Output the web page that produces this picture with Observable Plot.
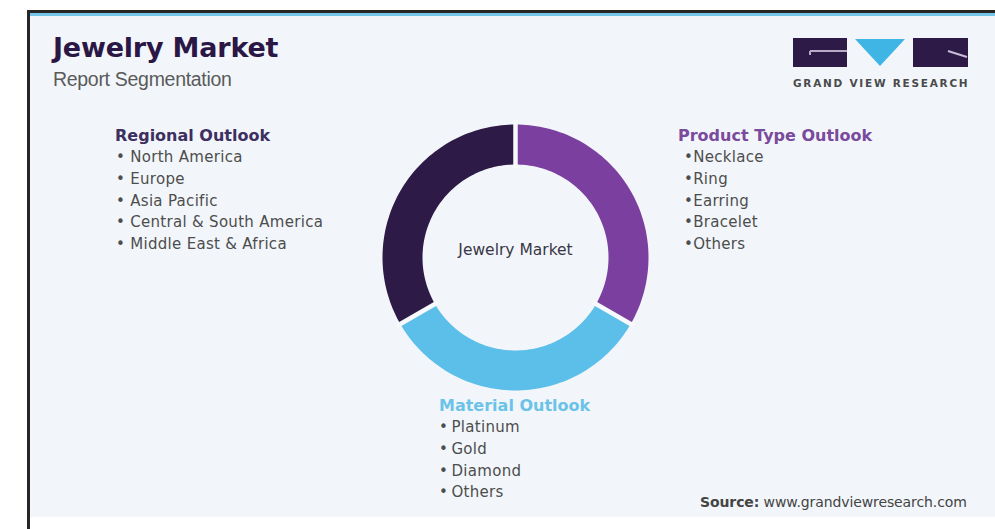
<!DOCTYPE html>
<html><head><meta charset="utf-8">
<script src="https://cdn.jsdelivr.net/npm/d3@7"></script>
<script src="https://cdn.jsdelivr.net/npm/@observablehq/plot@0.6"></script>
<style>
html,body{margin:0;padding:0;background:#fff;}
#wrap{position:relative;width:995px;height:529px;overflow:hidden;font-family:"DejaVu Sans",sans-serif;}
#frame{position:absolute;left:27px;top:10px;width:968px;height:519px;border-top:3px solid #262626;border-left:3px solid #262626;box-sizing:border-box;}
#panel{position:absolute;left:30px;top:13px;right:0;height:504px;background:#f2f6fa;border-top:3px solid #74c5e8;box-sizing:border-box;}
#title{position:absolute;left:53px;top:32px;font:bold 27px "DejaVu Sans",sans-serif;color:#2b1745;letter-spacing:-0.2px;white-space:nowrap;}
#subtitle{position:absolute;left:53px;top:68px;font:19.5px "Liberation Sans",Arial,sans-serif;color:#5a5a5a;white-space:nowrap;letter-spacing:-0.3px;}
.block{position:absolute;white-space:nowrap;}
.block .h{font:bold 16px "DejaVu Sans",sans-serif;line-height:22px;}
.block .i{font:15px "DejaVu Sans",sans-serif;line-height:21.8px;color:#4d4d4d;letter-spacing:0.3px;}
#donut{position:absolute;left:365px;top:107px;}
#source{position:absolute;left:700px;top:494px;font:14px "DejaVu Sans",sans-serif;color:#444;white-space:nowrap;letter-spacing:-0.1px;}
#logo{position:absolute;left:790px;top:36px;}
</style></head>
<body>
<div id="wrap">
  <div id="frame"></div>
  <div id="panel"></div>
  <div id="title"></div>
  <div id="subtitle"></div>
  <svg id="logo" width="185" height="56" viewBox="0 0 185 56">
    <rect x="3" y="2" width="54" height="29" fill="#2d1a46"/>
    <path d="M20 15 H57 M20 15 V19" stroke="#b9a9c8" stroke-width="2" fill="none"/>
    <polygon points="65,3 115,3 90,30" fill="#3eb5e5"/>
    <rect x="123" y="2" width="55" height="29" fill="#2d1a46"/>
    <path d="M158 15 L177 21" stroke="#c9bcd6" stroke-width="2" fill="none"/>
    <text x="3" y="51" font-family="DejaVu Sans" font-weight="bold" font-size="10.5" letter-spacing="1.75" fill="#4a4a4a">GRAND VIEW RESEARCH</text>
  </svg>
  <div id="regional" class="block" style="left:115px;top:125px;"></div>
  <div id="product" class="block" style="left:678px;top:125px;"></div>
  <div id="material" class="block" style="left:439px;top:395px;"></div>
  <div id="donut"></div>
  <div id="source"><b>Source:</b> www.grandviewresearch.com</div>
</div>
<script>
// ---- data ----
const titleText = "Jewelry Market";
const subtitleText = "Report Segmentation";
const centerLabel = "Jewelry Market";
const segments = ["Product Type Outlook", "Material Outlook", "Regional Outlook"];
const shares = [1, 1, 1];
const segmentColors = ["#7b3f9f", "#5bbfea", "#2d1a46"];
const regionalItems = ["North America", "Europe", "Asia Pacific", "Central & South America", "Middle East & Africa"];
const productItems = ["Necklace", "Ring", "Earring", "Bracelet", "Others"];
const materialItems = ["Platinum", "Gold", "Diamond", "Others"];

document.getElementById("title").textContent = titleText;
document.getElementById("subtitle").textContent = subtitleText;

function fillBlock(id, heading, color, items, sep, itemLeft) {
  const el = document.getElementById(id);
  const h = document.createElement("div");
  h.className = "h"; h.style.color = color; h.textContent = heading;
  el.appendChild(h);
  for (const it of items) {
    const d = document.createElement("div");
    d.className = "i"; d.style.marginLeft = itemLeft + "px";
    d.textContent = "\u2022" + sep + it;
    el.appendChild(d);
  }
}
fillBlock("regional", segments[2], "#3d2f60", regionalItems, " ", 1);
fillBlock("product", segments[0], "#7a4a9c", productItems, "", 6);
fillBlock("material", segments[1], "#6cc3e8", materialItems, "\u2009", 0);

// ---- donut ----
const R_OUT = 133, R_IN = 93;
const arcs = d3.pie().sort(null)(shares);
const pts = [];
arcs.forEach((a, i) => {
  const n = 80;
  const outer = [], inner = [];
  for (let k = 0; k <= n; k++) {
    const t = a.startAngle + (a.endAngle - a.startAngle) * k / n;
    outer.push({key: segments[i], x: R_OUT * Math.sin(t), y: R_OUT * Math.cos(t)});
    inner.push({key: segments[i], x: R_IN * Math.sin(t), y: R_IN * Math.cos(t)});
  }
  pts.push(...outer, ...inner.reverse());
});

const chart = Plot.plot({
  width: 300, height: 300, margin: 0,
  x: {domain: [-150, 150], axis: null},
  y: {domain: [-150, 150], axis: null},
  color: {domain: segments, range: segmentColors},
  style: {background: "transparent", overflow: "visible"},
  marks: [
    Plot.line(pts, {x: "x", y: "y", z: "key", fill: "key", stroke: "none", curve: "linear"}),
    Plot.link(arcs, {
      x1: d => (R_IN - 4) * Math.sin(d.startAngle), y1: d => (R_IN - 4) * Math.cos(d.startAngle),
      x2: d => (R_OUT + 4) * Math.sin(d.startAngle), y2: d => (R_OUT + 4) * Math.cos(d.startAngle),
      stroke: "#f7f9fc", strokeWidth: 4.5
    }),
    Plot.text([centerLabel], {x: () => 0, y: () => 0, text: d => d, fontSize: 15.5, fill: "#3a3647", dy: -7, fontFamily: "DejaVu Sans"})
  ]
});
document.getElementById("donut").appendChild(chart);
</script>
</body></html>
